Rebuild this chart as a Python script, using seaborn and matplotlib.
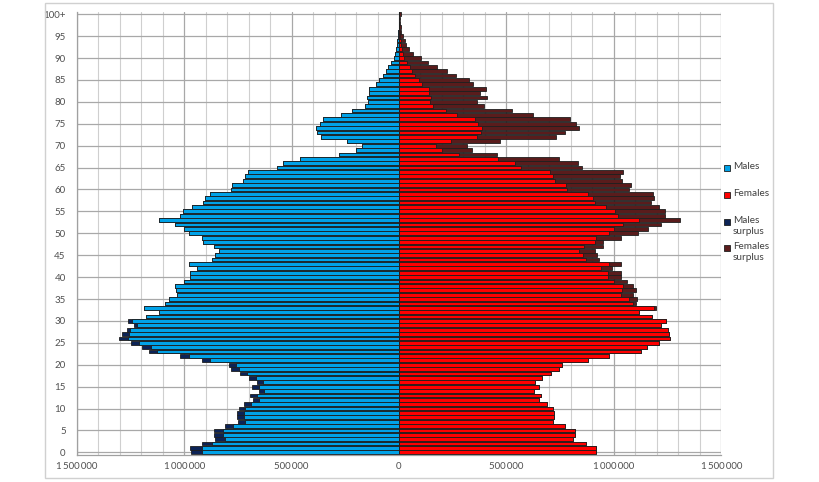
import numpy as np
import matplotlib.pyplot as plt
import matplotlib.patches as mpatches
from matplotlib.ticker import FixedLocator, FuncFormatter
import seaborn as sns

# population by single year of age, in thousands (0 .. 100+)
ages = list(range(101))
males = [
    967, 971, 916, 857, 860, 860, 812, 747, 755, 755,
    746, 721, 678, 695, 653, 682, 662, 699, 740, 780,
    792, 916, 1019, 1163, 1195, 1245, 1302, 1290, 1264, 1232,
    1260, 1177, 1119, 1189, 1088, 1070, 1034, 1039, 1042, 1000,
    972, 972, 941, 978, 871, 856, 840, 859, 910, 916,
    977, 1000, 1042, 1119, 1019, 1003, 964, 910, 902, 879,
    783, 778, 727, 716, 701, 566, 538, 460, 278, 200,
    174, 243, 364, 382, 387, 366, 355, 271, 220, 158,
    143, 149, 140, 140, 107, 94, 76, 62, 50, 39,
    23, 19, 14, 11, 8, 5, 3, 2, 1, 1,
    2,
]
females = [
    915, 915, 868, 808, 819, 819, 772, 715, 721, 721,
    715, 688, 650, 659, 626, 653, 634, 667, 708, 743,
    758, 880, 976, 1127, 1155, 1210, 1261, 1258, 1252, 1220,
    1244, 1177, 1119, 1198, 1105, 1108, 1087, 1102, 1087, 1059,
    1031, 1031, 989, 1031, 932, 922, 912, 950, 950, 1033,
    1110, 1157, 1219, 1310, 1237, 1237, 1208, 1171, 1186, 1183,
    1071, 1082, 1039, 1028, 1043, 854, 831, 746, 454, 341,
    315, 470, 729, 772, 837, 822, 798, 624, 526, 395,
    361, 408, 377, 403, 344, 324, 264, 222, 175, 135,
    101, 64, 48, 34, 26, 17, 10, 7, 4, 3,
    8,
]
age_ticks = list(range(0, 101, 5))
age_labels = [str(a) for a in age_ticks[:-1]] + ["100+"]
legend_labels = ["Males", "Females", "Males\nsurplus", "Females\nsurplus"]

c_male = "#00a2e8"
c_female = "#ff0000"
c_male_sur = "#0c2356"
c_female_sur = "#5a1c1c"
edge = "#1e1e1e"

m = np.array(males) * 1000
f = np.array(females) * 1000
common = np.minimum(m, f)

sns.set_style("white")
plt.rcParams["font.family"] = ["Lato", "DejaVu Sans"]

fig = plt.figure(figsize=(8.2, 4.82), dpi=100)
ax = fig.add_axes([76.7 / 820, 27 / 482, 644.6 / 820, 443 / 482])

kw = dict(orient="h", native_scale=True, width=0.86, saturation=1,
          errorbar=None, edgecolor=edge, linewidth=0.6, ax=ax)
# totals first (surplus colour), then the common part on top
sns.barplot(x=-m, y=ages, color=c_male_sur, **kw)
sns.barplot(x=f, y=ages, color=c_female_sur, **kw)
sns.barplot(x=-common, y=ages, color=c_male, **kw)
sns.barplot(x=common, y=ages, color=c_female, **kw)

ax.set_xlim(-1500000, 1500000)
ax.set_ylim(-0.6, 100.5)
ax.set_xlabel("")
ax.set_ylabel("")

ax.xaxis.set_major_locator(FixedLocator([-1500000, -1000000, -500000, 0, 500000, 1000000, 1500000]))
ax.xaxis.set_minor_locator(FixedLocator(np.arange(-1500000, 1500001, 100000)))
ax.xaxis.set_major_formatter(FuncFormatter(lambda v, p: f"{abs(int(v)):,}".replace(",", "\u2009")))
ax.yaxis.set_major_locator(FixedLocator(age_ticks))
ax.set_yticklabels(age_labels)

ax.set_axisbelow(True)
ax.grid(True, axis="x", which="minor", color="#cfcfcf", lw=0.8)
ax.grid(True, axis="x", which="major", color="#a8a8a8", lw=0.9)
ax.grid(True, axis="y", which="major", color="#a8a8a8", lw=0.9)

ax.tick_params(axis="both", which="both", length=0, labelsize=7, labelcolor="#505050")
ax.tick_params(axis="y", pad=8)
ax.tick_params(axis="x", pad=5)
for s in ["top", "right"]:
    ax.spines[s].set_visible(False)
for s in ["left", "bottom"]:
    ax.spines[s].set_color("#a0a0a0")
    ax.spines[s].set_linewidth(0.9)

# legend drawn by hand so the marker sits beside the first text line
for c, lab, yc in zip([c_male, c_female, c_male_sur, c_female_sur], legend_labels, [168, 195, 222, 248]):
    fig.patches.append(mpatches.Rectangle((724 / 820, 1 - (yc + 3) / 482), 6 / 820, 6 / 482,
                                          transform=fig.transFigure, facecolor=c,
                                          edgecolor=edge, lw=0.6))
    fig.text(733 / 820, 1 - (yc - 6) / 482, lab, fontsize=7.2, color="#404040",
             va="top", ha="left", linespacing=1.25)

fig.patches.append(mpatches.Rectangle((45 / 820, 4 / 482), 728 / 820, 475 / 482,
                                      transform=fig.transFigure, fill=False,
                                      edgecolor="#d0d0d0", lw=1))

fig.savefig("out.png", dpi=100)
